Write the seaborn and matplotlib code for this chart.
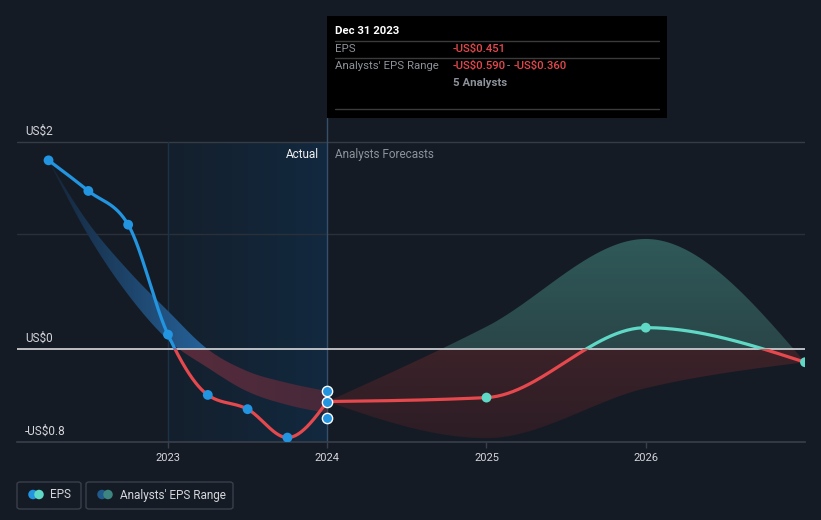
import numpy as np
import pandas as pd
import matplotlib
matplotlib.use("Agg")
import matplotlib.pyplot as plt
import seaborn as sns
from matplotlib.patches import Rectangle, FancyBboxPatch, Ellipse
from matplotlib.lines import Line2D
from matplotlib.colors import to_rgb

# ---------------- data ----------------
hist_dates = [2022.25, 2022.5, 2022.75, 2023.0, 2023.25, 2023.5, 2023.75, 2024.0]
hist_eps = [1.629, 1.365, 1.074, 0.126, -0.394, -0.517, -0.762, -0.451]
past_range_low = [1.629, 0.98, 0.47, 0.08, -0.16, -0.365, -0.48, -0.55]
past_range_high = [1.629, 1.09, 0.68, 0.33, 0.0, -0.19, -0.29, -0.36]

fc_dates = [2024.0, 2025.0, 2026.0, 2027.0]
fc_eps = [-0.451, -0.417, 0.186, -0.112]
fc_low = [-0.451, -0.767, -0.336, -0.112]
fc_high = [-0.451, 0.195, 0.951, -0.112]

tip_values = [-0.36, -0.451, -0.59]   # analysts' range high, EPS, range low at Dec 31 2023

year_ticks = [2023, 2024, 2025, 2026]
y_grid = [1.784, 0.991, 0.0, -0.8]
y_labels = ["US$2", "", "US$0", "-US$0.8"]

# ---------------- style ----------------
BG = "#151b25"
BLUE = "#2394df"
TEAL = "#5fd9c6"
RED = "#e5484d"
GRID = "#2a303a"
AXIS = "#3a404b"
TXT = "#d4d6da"
GREY = "#8d929a"

sns.set_theme(style="dark")
plt.rcParams["font.family"] = ["Roboto", "DejaVu Sans"]

W, H = 821, 520
fig = plt.figure(figsize=(W / 100, H / 100), dpi=100, facecolor=BG)


def fx(px):
    return px / W


def fy(py):
    return 1 - py / H


ax = fig.add_axes([fx(17), fy(442), fx(805) - fx(17), (442 - 118) / H])
ax.set_facecolor(BG)
XL = (2022.052, 2027.0)
YL = (-0.8, 1.994)


def monotone_x(x, y, n=60):
    x = np.asarray(x, float)
    y = np.asarray(y, float)
    h = np.diff(x)
    s = np.diff(y) / h
    m = np.zeros_like(y)
    sg = lambda v: -1.0 if v < 0 else 1.0
    for i in range(1, len(x) - 1):
        s0, s1 = s[i - 1], s[i]
        p = (s0 * h[i] + s1 * h[i - 1]) / (h[i - 1] + h[i])
        m[i] = (sg(s0) + sg(s1)) * min(abs(s0), abs(s1), 0.5 * abs(p))
    m[0] = (3 * s[0] - m[1]) / 2
    m[-1] = (3 * s[-1] - m[-2]) / 2
    xs, ys = [], []
    for i in range(len(x) - 1):
        t = np.linspace(0, 1, n, endpoint=(i == len(x) - 2))
        h00 = 2 * t**3 - 3 * t**2 + 1
        h10 = t**3 - 2 * t**2 + t
        h01 = -2 * t**3 + 3 * t**2
        h11 = t**3 - t**2
        ys.append(h00 * y[i] + h10 * h[i] * m[i] + h01 * y[i + 1] + h11 * h[i] * m[i + 1])
        xs.append(x[i] + t * h[i])
    return np.concatenate(xs), np.concatenate(ys)


def gradient_image(c1, c2, extent, zorder, clip_path=None, horizontal=True):
    a, b = np.array(to_rgb(c1)), np.array(to_rgb(c2))
    t = np.linspace(0, 1, 256)
    arr = a[None, :] * (1 - t[:, None]) + b[None, :] * t[:, None]
    if horizontal:
        img = arr[None, :, :]
    else:
        img = arr[::-1][:, None, :]
    im = ax.imshow(img, extent=extent, aspect="auto", zorder=zorder, interpolation="bilinear")
    if clip_path is not None:
        im.set_clip_path(clip_path, ax.transData)
    return im


# highlighted "last year" region
gradient_image("#141f2c", "#12293f", [2023, 2024, -0.8, y_grid[0]], 0)

# gridlines
for v in y_grid[:2]:
    ax.axhline(v, color=GRID if v < 1.5 else "#363c46", lw=1, zorder=1)
ax.axvline(2023, ymin=0, ymax=(y_grid[0] - YL[0]) / (YL[1] - YL[0]), color="#1b3248", lw=1, zorder=1)
ax.axvline(2024, color="#34506a", lw=1, zorder=1)

# past analysts' range band
bx, bhi = monotone_x(hist_dates, past_range_high)
_, blo = monotone_x(hist_dates, past_range_low)
poly_up = ax.fill_between(bx, np.maximum(blo, 0), np.maximum(bhi, 0), color="none", lw=0)
poly_dn = ax.fill_between(bx, np.minimum(blo, 0), np.minimum(bhi, 0), color="none", lw=0)
gradient_image("#15263a", "#2766a0", [2022.25, 2023.3, -0.8, 2.0], 2, poly_up.get_paths()[0])
gradient_image("#582c3c", "#46293a", [2023.0, 2024.0, -0.8, 2.0], 2, poly_dn.get_paths()[0])

# forecast analysts' range band
fx_, fhi = monotone_x(fc_dates, fc_high)
_, flo = monotone_x(fc_dates, fc_low)
poly_fu = ax.fill_between(fx_, np.maximum(flo, 0), np.maximum(fhi, 0), color="none", lw=0)
poly_fd = ax.fill_between(fx_, np.minimum(flo, 0), np.minimum(fhi, 0), color="none", lw=0)
gradient_image("#2a4648", "#305a5a", [2024, 2027, 0, 1.0], 2, poly_fu.get_paths()[0], horizontal=False)
gradient_image("#2c1d25", "#3c2229", [2024, 2027, -0.8, 0], 2, poly_fd.get_paths()[0], horizontal=False)

# zero line
ax.axhline(0, color="#c9cbcf", lw=1.3, zorder=3)


def split_line(xs, ys, c_pos, c_neg, z):
    df = pd.DataFrame({"date": xs, "eps": ys})
    for col, rect in ((c_pos, (XL[0], 0, XL[1] - XL[0], 5)), (c_neg, (XL[0], -5, XL[1] - XL[0], 5))):
        sns.lineplot(data=df, x="date", y="eps", ax=ax, color=col, lw=2.3, sort=False,
                     estimator=None, zorder=z, legend=False)
        ln = ax.lines[-1]
        r = Rectangle(rect[:2], rect[2], rect[3], transform=ax.transData)
        ln.set_clip_path(r)
        ln.set_solid_capstyle("round")


hx, hy = monotone_x(hist_dates, hist_eps)
split_line(hx, hy, BLUE, RED, 4)
fxx, fyy = monotone_x(fc_dates, fc_eps)
split_line(fxx, fyy, TEAL, RED, 4)

# markers
sns.scatterplot(x=hist_dates[:-1], y=hist_eps[:-1], ax=ax, color=BLUE, s=50, edgecolor="none", zorder=5)
sns.scatterplot(x=fc_dates[1:], y=fc_eps[1:], ax=ax, color=TEAL, s=50, edgecolor="none", zorder=5)
sns.scatterplot(x=[2024.0] * 3, y=tip_values, ax=ax, color=BLUE, s=55, edgecolor="white",
                linewidth=1.0, zorder=6)

ax.set_xlim(*XL)
ax.set_ylim(*YL)
ax.set_xlabel("")
ax.set_ylabel("")
ax.set_yticks([])
ax.set_xticks(year_ticks)
ax.set_xticklabels([str(y) for y in year_ticks], color=TXT, fontsize=8)
ax.tick_params(axis="x", length=4, color=AXIS, width=1, pad=4, bottom=True)
for sp in ("top", "left", "right"):
    ax.spines[sp].set_visible(False)
ax.spines["bottom"].set_color(AXIS)
ax.spines["bottom"].set_linewidth(1.2)
ax.grid(False)

# y labels
for v, lab in zip(y_grid, y_labels):
    if lab:
        ax.text(XL[0] + 0.05, v + 0.04, lab, color=TXT, fontsize=8.5, ha="left", va="bottom", zorder=7)

# Actual / Analysts Forecasts
ax.text(2024 - 0.05, 1.68, "Actual", color="#f0f0f0", fontsize=8.5, ha="right", va="center", zorder=7)
ax.text(2024 + 0.05, 1.68, "Analysts Forecasts", color=GREY, fontsize=8.5, ha="left", va="center", zorder=7)

# ---------------- tooltip ----------------
fig.add_artist(Rectangle((fx(327), fy(118)), fx(667) - fx(327), (118 - 16) / H,
                         transform=fig.transFigure, facecolor="black", edgecolor="none", zorder=10))
for yy in (41, 58, 109):
    fig.add_artist(Line2D([fx(335), fx(659)], [fy(yy), fy(yy)], transform=fig.transFigure,
                          color="#3b3b3b", lw=1, zorder=11))
TS = 8.2
fig.text(fx(335), fy(31), "Dec 31 2023", color="white", fontsize=TS, fontweight="bold",
         ha="left", va="center", zorder=12)
fig.text(fx(335), fy(49), "EPS", color=GREY, fontsize=TS, ha="left", va="center", zorder=12)
fig.text(fx(453), fy(49), "-US$0.451", color=RED, fontsize=TS, fontweight="medium", ha="left", va="center", zorder=12)
fig.text(fx(335), fy(66), "Analysts' EPS Range", color=GREY, fontsize=TS, ha="left", va="center", zorder=12)
fig.text(fx(453), fy(66), "-US$0.590", color=RED, fontsize=TS, fontweight="medium", ha="left", va="center", zorder=12)
fig.text(fx(507), fy(66), "-", color=GREY, fontsize=TS, ha="left", va="center", zorder=12)
fig.text(fx(514), fy(66), "-US$0.360", color=RED, fontsize=TS, fontweight="medium", ha="left", va="center", zorder=12)
fig.text(fx(453), fy(83), "5 Analysts", color=GREY, fontsize=TS, fontweight="bold", ha="left", va="center", zorder=12)

# ---------------- legend ----------------
def legend_box(x0, x1, c1, c2, label, tx):
    fig.add_artist(FancyBboxPatch((fx(x0), fy(509)), fx(x1) - fx(x0), (509 - 482) / H,
                                  boxstyle="round,pad=0,rounding_size=0.004", transform=fig.transFigure,
                                  facecolor="none", edgecolor="#3a404b", lw=1, zorder=10))
    for cx, col in ((x0 + 16, c1), (x0 + 22, c2)):
        fig.add_artist(Ellipse((fx(cx), fy(494.5)), 9.5 / W, 9.5 / H, transform=fig.transFigure,
                               facecolor=col, edgecolor="none", zorder=11))
    fig.text(fx(tx), fy(495), label, color=TXT, fontsize=8.5, ha="left", va="center", zorder=12)


legend_box(17, 81, BLUE, TEAL, "EPS", 50)
legend_box(86, 233, "#1f5a8a", "#3d8580", "Analysts' EPS Range", 120)

fig.savefig("out.png", dpi=100, facecolor=BG)
